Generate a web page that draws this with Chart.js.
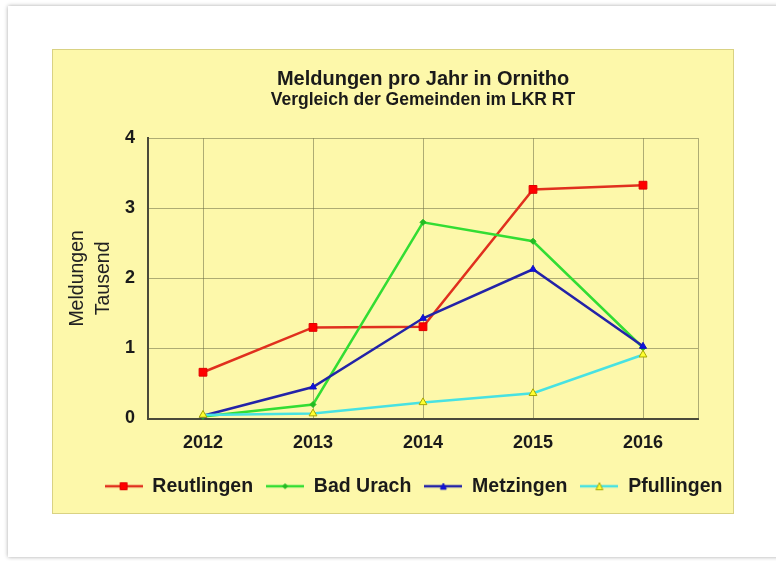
<!DOCTYPE html>
<html>
<head>
<meta charset="utf-8">
<script src="https://cdn.jsdelivr.net/npm/chart.js@4/dist/chart.umd.min.js"></script>
<style>
  html, body { margin: 0; padding: 0; background: #ffffff; width: 776px; height: 561px; overflow: hidden; }
  #card { position: absolute; left: 8px; top: 6px; width: 800px; height: 551px; background: #ffffff;
          box-shadow: 0 0 4px rgba(0,0,0,0.35); }
  #panel { position: absolute; left: 52px; top: 49px; width: 680px; height: 463px; background: #FDF8AA;
           border: 1px solid rgba(150,140,60,0.35); }
  #wrap { position: absolute; left: 52px; top: 49px; width: 715px; height: 464px; }
</style>
</head>
<body>
<div id="card"></div>
<div id="panel"></div>
<div id="wrap"><canvas id="c" width="715" height="464"></canvas></div>
<script>
const years = ['2012', '2013', '2014', '2015', '2016'];
const reutlingen = [0.66, 1.30, 1.31, 3.27, 3.33];
const badUrach = [0.03, 0.20, 2.80, 2.53, 1.01];
const metzingen = [0.04, 0.45, 1.43, 2.13, 1.03];
const pfullingen = [0.05, 0.07, 0.23, 0.36, 0.91];
const seriesNames = ['Reutlingen', 'Bad Urach', 'Metzingen', 'Pfullingen'];
const titleText = 'Meldungen pro Jahr in Ornitho';
const subtitleText = 'Vergleich der Gemeinden im LKR RT';
const yTitle = ['Meldungen', 'Tausend'];

const FONT = "'Liberation Sans', Arial, sans-serif";
const gridColor = 'rgba(95,95,60,0.5)';
const axisColor = '#4a4a3a';

function legendImage(lineColor, shape, fill, stroke, size) {
  const c = document.createElement('canvas');
  c.width = 38; c.height = 14;
  const g = c.getContext('2d');
  g.strokeStyle = lineColor; g.lineWidth = 2.5;
  g.beginPath(); g.moveTo(0, 7); g.lineTo(38, 7); g.stroke();
  g.fillStyle = fill; g.strokeStyle = stroke; g.lineWidth = 1;
  const cx = 19, cy = 7;
  g.beginPath();
  if (shape === 'rect') {
    g.rect(cx - size / 2, cy - size / 2, size, size);
  } else if (shape === 'diamond') {
    g.moveTo(cx, cy - size / 2); g.lineTo(cx + size / 2, cy); g.lineTo(cx, cy + size / 2); g.lineTo(cx - size / 2, cy); g.closePath();
  } else {
    g.moveTo(cx, cy - size / 2); g.lineTo(cx + size / 2, cy + size / 2); g.lineTo(cx - size / 2, cy + size / 2); g.closePath();
  }
  g.fill(); g.stroke();
  return c;
}

const legendImgs = [
  legendImage('#E0301E', 'rect', '#FF0000', '#E00000', 7),
  legendImage('#33DD33', 'diamond', '#22BB22', '#22BB22', 5),
  legendImage('#2323A8', 'tri', '#1010E0', '#1010C0', 6),
  legendImage('#48E2E2', 'tri', '#FFFF30', '#A8A800', 7)
];

const chart = new Chart(document.getElementById('c'), {
  type: 'line',
  data: {
    labels: years,
    datasets: [
      { label: seriesNames[0], data: reutlingen, order: 3, borderColor: '#E0301E', borderWidth: 2.5,
        pointStyle: 'rect', pointRadius: 5.5, pointBackgroundColor: '#FF0000', pointBorderColor: '#E00000', pointBorderWidth: 1 },
      { label: seriesNames[1], data: badUrach, order: 2, borderColor: '#33DD33', borderWidth: 2.5,
        pointStyle: 'rectRot', pointRadius: 3, pointBackgroundColor: '#22BB22', pointBorderColor: '#22BB22', pointBorderWidth: 1 },
      { label: seriesNames[2], data: metzingen, order: 1, borderColor: '#2323A8', borderWidth: 2.5,
        pointStyle: 'triangle', pointRadius: 4, pointBackgroundColor: '#1010E0', pointBorderColor: '#1010C0', pointBorderWidth: 1 },
      { label: seriesNames[3], data: pfullingen, order: 0, borderColor: '#48E2E2', borderWidth: 2.5,
        pointStyle: 'triangle', pointRadius: 4.5, pointBackgroundColor: '#FFFF30', pointBorderColor: '#A8A800', pointBorderWidth: 1 }
    ]
  },
  options: {
    responsive: false,
    animation: false,
    events: [],
    layout: { padding: { left: 8, right: 0, top: 0, bottom: 7 } },
    elements: { line: { tension: 0, fill: false } },
    datasets: { line: { clip: false } },
    plugins: {
      title: {
        display: true, text: titleText, fullSize: false, color: '#1a1a1a',
        font: { family: FONT, size: 20, weight: 'bold', lineHeight: 1.1 },
        padding: { top: 19, bottom: 0 }
      },
      subtitle: {
        display: true, text: subtitleText, fullSize: false, color: '#1a1a1a',
        font: { family: FONT, size: 17.5, weight: 'bold', lineHeight: 1.1 },
        padding: { top: 1, bottom: 28 }
      },
      legend: {
        display: true, position: 'bottom', align: 'center',
        labels: {
          usePointStyle: true, pointStyleWidth: 38, padding: 13, color: '#1a1a1a',
          font: { family: FONT, size: 19.5, weight: 'bold' },
          generateLabels: (ch) => {
            const items = Chart.defaults.plugins.legend.labels.generateLabels(ch);
            items.forEach(it => { it.pointStyle = legendImgs[it.datasetIndex]; });
            return items;
          },
          sort: (a, b) => a.datasetIndex - b.datasetIndex
        }
      },
      tooltip: { enabled: false }
    },
    scales: {
      x: {
        offset: true,
        grid: { display: true, offset: false, color: gridColor, lineWidth: 1, drawTicks: false },
        border: { display: true, color: axisColor, width: 2 },
        ticks: { padding: 14, color: '#1a1a1a', font: { family: FONT, size: 18, weight: 'bold' } },
        afterFit: (s) => { s.height = 45; }
      },
      y: {
        min: 0, max: 4,
        grid: { color: gridColor, lineWidth: 1, drawTicks: false },
        border: { display: true, color: axisColor, width: 2 },
        ticks: { stepSize: 1, padding: 13, color: '#1a1a1a', font: { family: FONT, size: 18, weight: 'bold' } },
        title: {
          display: true, text: yTitle, color: '#222222',
          font: { family: FONT, size: 19.5, weight: 'normal', lineHeight: 1.35 },
          padding: { top: 4, bottom: 4 }
        },
        afterFit: (s) => { s.width = 88; }
      },
      yR: {
        position: 'right', min: 0, max: 4,
        grid: { display: false, drawTicks: false },
        border: { display: true, color: gridColor, width: 1 },
        ticks: { display: false },
        afterFit: (s) => { s.width = 69; }
      }
    }
  }
});
</script>
</body>
</html>
